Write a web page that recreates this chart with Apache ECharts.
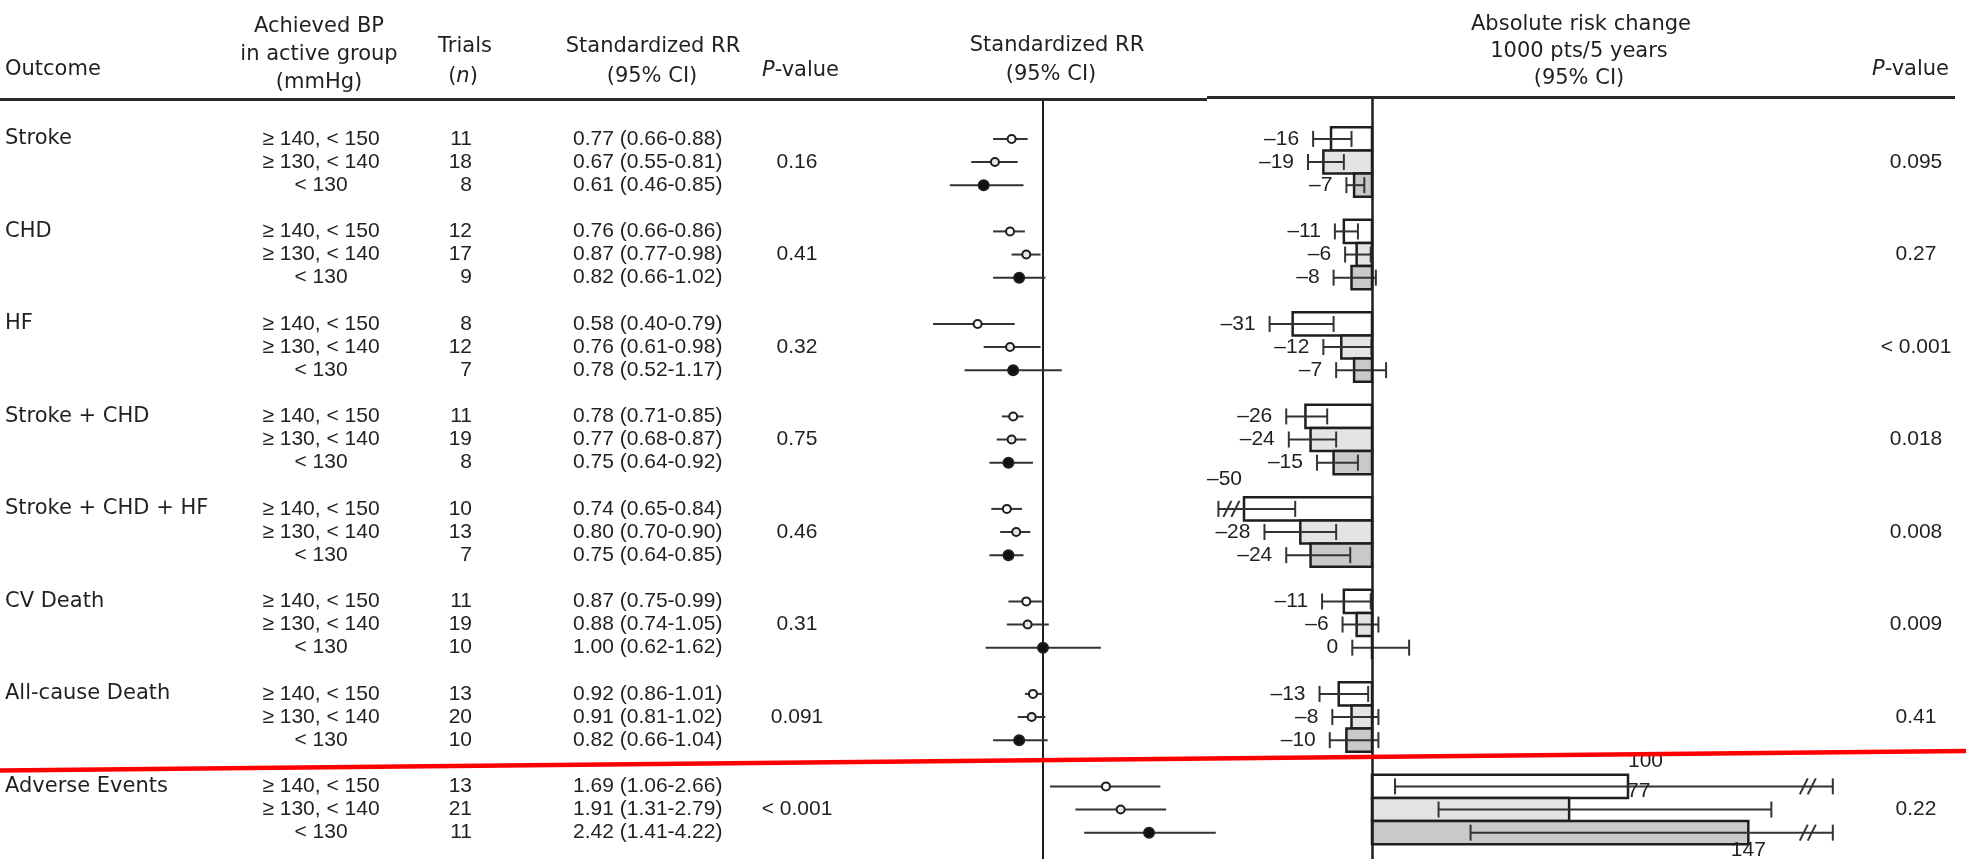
<!DOCTYPE html>
<html><head><meta charset="utf-8">
<script src="https://cdn.jsdelivr.net/npm/echarts@6/dist/echarts.min.js"></script>
<style>html,body{margin:0;padding:0;background:#fff}#c{width:1966px;height:859px}</style>
</head><body><div id="c"></div>
<script>
// ---------------- data ----------------
const outcomes = ['Stroke', 'CHD', 'HF', 'Stroke + CHD', 'Stroke + CHD + HF', 'CV Death', 'All-cause Death', 'Adverse Events'];
const bpLevels = ['\u2265 140, < 150', '\u2265 130, < 140', '< 130'];
const trials = [[11, 18, 8], [12, 17, 9], [8, 12, 7], [11, 19, 8], [10, 13, 7], [11, 19, 10], [13, 20, 10], [13, 21, 11]];
const rrEst  = [[0.77, 0.67, 0.61], [0.76, 0.87, 0.82], [0.58, 0.76, 0.78], [0.78, 0.77, 0.75], [0.74, 0.80, 0.75], [0.87, 0.88, 1.00], [0.92, 0.91, 0.82], [1.69, 1.91, 2.42]];
const rrLow  = [[0.66, 0.55, 0.46], [0.66, 0.77, 0.66], [0.40, 0.61, 0.52], [0.71, 0.68, 0.64], [0.65, 0.70, 0.64], [0.75, 0.74, 0.62], [0.86, 0.81, 0.66], [1.06, 1.31, 1.41]];
const rrHigh = [[0.88, 0.81, 0.85], [0.86, 0.98, 1.02], [0.79, 0.98, 1.17], [0.85, 0.87, 0.92], [0.84, 0.90, 0.85], [0.99, 1.05, 1.62], [1.01, 1.02, 1.04], [2.66, 2.79, 4.22]];
const rrPValues = ['0.16', '0.41', '0.32', '0.75', '0.46', '0.31', '0.091', '< 0.001'];
const arcEst  = [[-16, -19, -7], [-11, -6, -8], [-31, -12, -7], [-26, -24, -15], [-50, -28, -24], [-11, -6, 0], [-13, -8, -10], [100, 77, 147]];
const arcLow  = [[-23, -25, -10], [-14.5, -10.5, -15], [-40, -19, -14], [-33.5, -32.5, -21.5], [-75, -42, -33.5], [-19.5, -11.5, -7.7], [-20.5, -15.5, -16.5], [9, 26, 38.5]];
const arcHigh = [[-8, -11, -3], [-5.5, -0.5, 1.5], [-15, -0.2, 5.5], [-17.5, -14, -5.5], [-30, -14, -8.5], [-0.5, 2.5, 14.5], [-1.5, 2.5, 2.5], [230, 156, 240]];
const arcPValues = ['0.095', '0.27', '< 0.001', '0.018', '0.008', '0.009', '0.41', '0.22'];

// ---------------- layout / style ----------------
const ROWS_PER_GROUP = 4;
const NUM_FONT = "'Liberation Sans', Arial, sans-serif";
const WORD_FONT = "'DejaVu Sans', sans-serif";
const FS = 21;
const TXT = '#231f20';
const INK = '#1e1e1e';
const BAR_FILLS = ['#ffffff', '#e4e4e4', '#c9c9c9'];
const DOT_FILLS = ['#ffffff', '#e8e8e8', '#111111'];
const ARC_MIN = -60, ARC_MAX = 180;
const Y_MIN = -1.77, Y_MAX = 31.14;
const COL = { outcome: 5, bp: 321, trials: 472, rr: 573, p: 797, p2: 1916 };

const tableData = [], forestData = [], arcData = [];
outcomes.forEach((o, g) => {
  for (let r = 0; r < 3; r++) {
    const idx = g * ROWS_PER_GROUP + r;
    tableData.push([0, idx, g, r]);
    forestData.push([rrEst[g][r], idx, rrLow[g][r], rrHigh[g][r], r]);
    arcData.push([arcEst[g][r], idx, arcLow[g][r], arcHigh[g][r], r, g]);
  }
});

function txt(x, y, text, align, font, extra) {
  return Object.assign({
    type: 'text',
    style: {
      x: x, y: y, text: text, fill: TXT, fontSize: FS, fontFamily: font,
      align: align, textAlign: align, verticalAlign: 'middle', textVerticalAlign: 'middle'
    }
  }, extra || {});
}

const fmt = v => v.toFixed(2);
const dashNum = v => (v < 0 ? '\u2013' + Math.abs(v) : String(v));

const chart = echarts.init(document.getElementById('c'), null, { renderer: 'canvas' });

const yAxisBase = { type: 'value', min: Y_MIN, max: Y_MAX, inverse: true, show: false };

function headerText(x, y, text, align, rich) {
  const st = {
    text: text, fill: TXT, fontSize: FS, fontFamily: WORD_FONT,
    align: align, textAlign: align, verticalAlign: 'middle', textVerticalAlign: 'middle'
  };
  if (rich) st.rich = rich;
  return { type: 'text', x: x, y: y, style: st, z: 50 };
}
const italicRich = { i: { fontStyle: 'italic', fontSize: FS, fontFamily: WORD_FONT, fill: TXT } };

const option = {
  animation: false,
  backgroundColor: '#ffffff',
  grid: [
    { left: 0, right: 0, top: 98, bottom: 0 },
    { left: 898.5, right: 729.87, top: 98, bottom: 0 },
    { left: 1218.4, right: 133.2, top: 98, bottom: 0 }
  ],
  xAxis: [
    { gridIndex: 0, type: 'value', min: 0, max: 1966, show: false },
    { gridIndex: 1, type: 'log', logBase: 10, min: 0.3, max: 5, show: false },
    { gridIndex: 2, type: 'value', min: ARC_MIN, max: ARC_MAX, show: false }
  ],
  yAxis: [
    Object.assign({ gridIndex: 0 }, yAxisBase),
    Object.assign({ gridIndex: 1 }, yAxisBase),
    Object.assign({ gridIndex: 2 }, yAxisBase)
  ],
  graphic: [
    { type: 'line', shape: { x1: 0, y1: 99.5, x2: 1207, y2: 99.5 }, style: { stroke: '#2a2a2a', lineWidth: 3 }, z: 40 },
    { type: 'line', shape: { x1: 1207, y1: 97.5, x2: 1955, y2: 97.5 }, style: { stroke: '#2a2a2a', lineWidth: 3 }, z: 40 },
    headerText(5, 70, 'Outcome', 'left'),
    headerText(319, 27, 'Achieved BP', 'center'),
    headerText(319, 55, 'in active group', 'center'),
    headerText(319, 83, '(mmHg)', 'center'),
    headerText(465, 47, 'Trials', 'center'),
    headerText(463, 77, '({i|n})', 'center', italicRich),
    headerText(653, 47, 'Standardized RR', 'center'),
    headerText(652, 77, '(95% CI)', 'center'),
    headerText(762, 71, '{i|P}-value', 'left', italicRich),
    headerText(1057, 46, 'Standardized RR', 'center'),
    headerText(1051, 75, '(95% CI)', 'center'),
    headerText(1581, 25, 'Absolute risk change', 'center'),
    headerText(1579, 52, '1000 pts/5 years', 'center'),
    headerText(1579, 79, '(95% CI)', 'center'),
    headerText(1872, 70, '{i|P}-value', 'left', italicRich),
    { type: 'line', shape: { x1: 0, y1: 770.5, x2: 1966, y2: 751 }, style: { stroke: '#ff0000', lineWidth: 4.5 }, z: 100 }
  ],
  series: [
    {
      type: 'custom', xAxisIndex: 0, yAxisIndex: 0, data: tableData, encode: { x: 0, y: 1 }, silent: true,
      renderItem: function (params, api) {
        const idx = api.value(1), g = api.value(2), r = api.value(3);
        const X = x => api.coord([x, idx])[0];
        const y = api.coord([0, idx])[1];
        const ch = [];
        if (r === 0) ch.push(txt(X(COL.outcome), y, outcomes[g], 'left', WORD_FONT));
        ch.push(txt(X(COL.bp), y, bpLevels[r], 'center', NUM_FONT));
        ch.push(txt(X(COL.trials), y, String(trials[g][r]), 'right', NUM_FONT));
        ch.push(txt(X(COL.rr), y, fmt(rrEst[g][r]) + ' (' + fmt(rrLow[g][r]) + '-' + fmt(rrHigh[g][r]) + ')', 'left', NUM_FONT));
        if (r === 1) {
          ch.push(txt(X(COL.p), y, rrPValues[g], 'center', NUM_FONT));
          ch.push(txt(X(COL.p2), y, arcPValues[g], 'center', NUM_FONT));
        }
        return { type: 'group', children: ch };
      }
    },
    {
      type: 'custom', xAxisIndex: 1, yAxisIndex: 1, data: forestData, encode: { x: 0, y: 1 }, silent: true, z: 5,
      renderItem: function (params, api) {
        const est = api.value(0), idx = api.value(1), lo = api.value(2), hi = api.value(3), r = api.value(4);
        const pE = api.coord([est, idx]), pL = api.coord([lo, idx]), pH = api.coord([hi, idx]);
        return {
          type: 'group', children: [
            { type: 'line', shape: { x1: pL[0], y1: pL[1], x2: pH[0], y2: pH[1] }, style: { stroke: '#333', lineWidth: 2 } },
            { type: 'circle', shape: { cx: pE[0], cy: pE[1], r: r === 2 ? 5 : 4 }, style: { fill: DOT_FILLS[r], stroke: INK, lineWidth: 2 } }
          ]
        };
      },
      markLine: { silent: true, symbol: 'none', label: { show: false }, lineStyle: { color: INK, width: 2, type: 'solid' }, data: [{ xAxis: 1 }] }
    },
    {
      type: 'custom', xAxisIndex: 2, yAxisIndex: 2, data: arcData, encode: { x: 0, y: 1 }, silent: true, z: 4,
      renderItem: function (params, api) {
        const val = api.value(0), idx = api.value(1), lo = api.value(2), hi = api.value(3), r = api.value(4);
        const loC = Math.max(lo, ARC_MIN), hiC = Math.min(hi, ARC_MAX);
        const p0 = api.coord([0, idx]), pv = api.coord([val, idx]);
        const xl = api.coord([loC, idx])[0], xh = api.coord([hiC, idx])[0];
        const y = p0[1];
        const h = api.size([0, 1])[1];
        const ch = [];
        ch.push({ type: 'rect', shape: { x: Math.min(p0[0], pv[0]), y: y - h / 2, width: Math.abs(pv[0] - p0[0]), height: h },
          style: { fill: BAR_FILLS[r], stroke: INK, lineWidth: 2.5 } });
        const ws = { stroke: '#333', lineWidth: 2 };
        ch.push({ type: 'line', shape: { x1: xl, y1: y, x2: xh, y2: y }, style: ws });
        ch.push({ type: 'line', shape: { x1: xl, y1: y - 8, x2: xl, y2: y + 8 }, style: ws });
        ch.push({ type: 'line', shape: { x1: xh, y1: y - 8, x2: xh, y2: y + 8 }, style: ws });
        const slashes = cx => [cx - 4, cx + 4].map(sx => ({ type: 'line', shape: { x1: sx - 4, y1: y + 8, x2: sx + 4, y2: y - 8 }, style: ws }));
        if (lo < ARC_MIN) slashes(xl + 13).forEach(s => ch.push(s));
        if (hi > ARC_MAX) slashes(xh - 25).forEach(s => ch.push(s));
        const label = dashNum(val);
        if (val <= 0) {
          if (lo < ARC_MIN) ch.push(txt(pv[0] - 2, y - 30, label, 'right', NUM_FONT));
          else ch.push(txt(Math.min(xl, pv[0]) - 14, y, label, 'right', NUM_FONT));
        } else {
          if (r === 0) ch.push(txt(pv[0], y - 25, label, 'left', NUM_FONT));
          else if (r === 1) ch.push(txt(pv[0] + 58, y - 18, label, 'left', NUM_FONT));
          else ch.push(txt(pv[0], y + 18, label, 'center', NUM_FONT));
        }
        return { type: 'group', children: ch };
      },
      markLine: { silent: true, symbol: 'none', label: { show: false }, lineStyle: { color: INK, width: 2.5, type: 'solid' }, data: [{ xAxis: 0 }] }
    }
  ]
};
chart.setOption(option);
</script>
</body></html>
